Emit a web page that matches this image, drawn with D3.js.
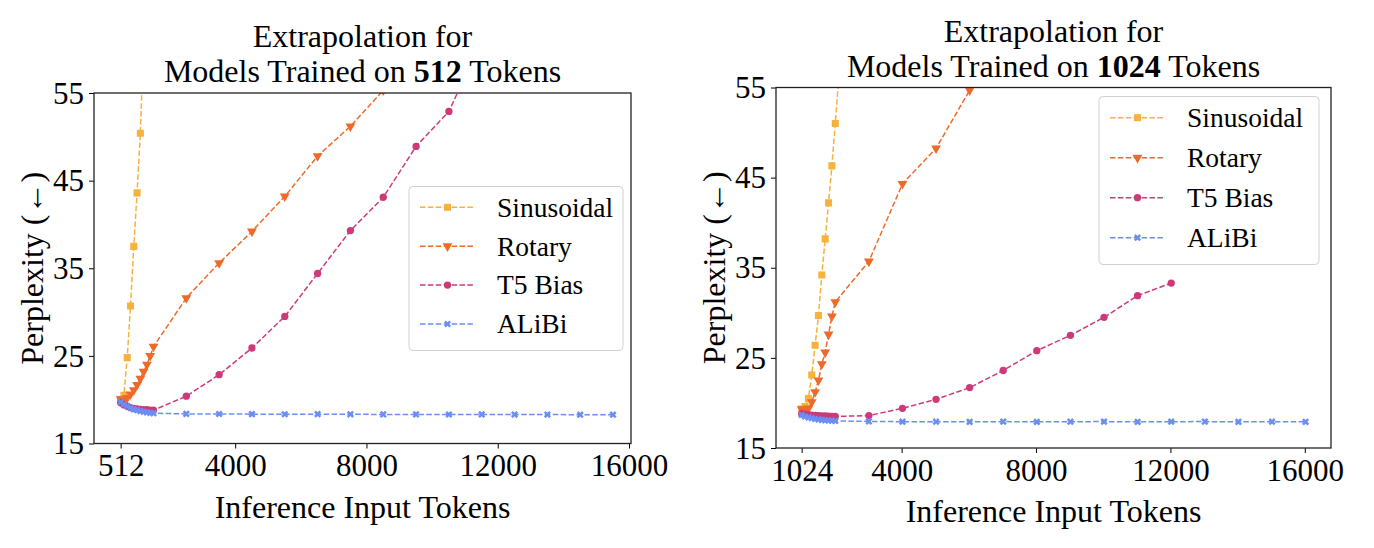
<!DOCTYPE html>
<html><head><meta charset="utf-8">
<script src="https://cdn.jsdelivr.net/npm/d3@7"></script>
<style>
body{margin:0;background:#fff}
svg{display:block}
text{font-family:"Liberation Serif","Times New Roman",serif;fill:#000}
</style>
</head><body>
<svg id="chart" width="1374" height="548"></svg>
<script>
// ---------------- DATA ----------------
const seriesNames = ["Sinusoidal", "Rotary", "T5 Bias", "ALiBi"];
const yTicks = [15, 25, 35, 45, 55];
const xTicks512 = [512, 4000, 8000, 12000, 16000];
const xTicks1024 = [1024, 4000, 8000, 12000, 16000];

// Models trained on 512 tokens
const tokens512 = [512, 612, 712, 812, 912, 1012, 1112, 1212, 1312, 1412, 1512,
  2512, 3512, 4512, 5512, 6512, 7512, 8512, 9512, 10512, 11512, 12512, 13512, 14512, 15512];
const sinusoidal512 = [20.05, 20.5, 24.8, 30.7, 37.5, 43.6, 50.4, 61.0, null, null, null,
  null, null, null, null, null, null, null, null, null, null, null, null, null, null];
const rotary512 = [20.07, 20.0, 20.2, 20.6, 21.1, 21.7, 22.4, 23.2, 24.0, 25.0, 26.05,
  31.6, 35.6, 39.2, 43.2, 47.8, 51.2, 55.3, 60.0, null, null, null, null, null, null];
const t5512 = [19.65, 19.4, 19.25, 19.1, 19.0, 18.95, 18.9, 18.85, 18.85, 18.8, 18.8,
  20.4, 22.85, 25.9, 29.5, 34.4, 39.3, 43.1, 48.9, 52.9, 61.0, null, null, null, null];
const alibi512 = [19.73, 19.45, 19.25, 19.05, 18.9, 18.8, 18.7, 18.62, 18.55, 18.5, 18.45,
  18.38, 18.37, 18.35, 18.34, 18.35, 18.33, 18.32, 18.32, 18.31, 18.32, 18.3, 18.3, 18.29, 18.29];

// Models trained on 1024 tokens
const tokens1024 = [1024, 1124, 1224, 1324, 1424, 1524, 1624, 1724, 1824, 1924, 2024,
  3024, 4024, 5024, 6024, 7024, 8024, 9024, 10024, 11024, 12024, 13024, 14024, 15024, 16024];
const sinusoidal1024 = [19.34, 19.6, 20.5, 23.1, 26.4, 29.7, 34.2, 38.2, 42.2, 46.3, 51.0,
  100.0, null, null, null, null, null, null, null, null, null, null, null, null, null];
const rotary1024 = [19.33, 19.3, 19.4, 20.1, 21.2, 22.5, 24.3, 25.6, 27.6, 29.6, 31.2,
  35.7, 44.3, 48.25, 54.7, 61.0, null, null, null, null, null, null, null, null, null];
const t51024 = [18.8, 18.75, 18.7, 18.65, 18.62, 18.6, 18.57, 18.55, 18.53, 18.5, 18.5,
  18.6, 19.4, 20.4, 21.7, 23.6, 25.8, 27.5, 29.5, 31.9, 33.3, null, null, null, null];
const alibi1024 = [18.66, 18.5, 18.4, 18.3, 18.22, 18.17, 18.12, 18.08, 18.05, 18.02, 18.0,
  17.95, 17.92, 17.92, 17.9, 17.93, 17.9, 17.92, 17.93, 17.9, 17.92, 17.93, 17.9, 17.92, 17.9];

// ---------------- STYLE ----------------
const colors = {"Sinusoidal": "#f5b23c", "Rotary": "#ee6a2a", "T5 Bias": "#cc3a7a", "ALiBi": "#6b8ef5"};
const FONT_TICK = 31, FONT_LABEL = 32, FONT_TITLE = 32, FONT_LEGEND = 27.5;

const svg = d3.select("#chart");

function markerPath(name) {
  if (name === "Sinusoidal") return {d: d3.symbol(d3.symbolSquare, 50)(), rot: 0};
  if (name === "Rotary") return {d: d3.symbol(d3.symbolTriangle, 42)(), rot: 180};
  if (name === "T5 Bias") return {d: d3.symbol(d3.symbolCircle, 42)(), rot: 0};
  return {d: d3.symbol(d3.symbolCross, 32)(), rot: 45};
}

function panel(cfg) {
  const g = svg.append("g");
  const x = d3.scaleLinear().domain(cfg.xDomain).range([cfg.x0, cfg.x1]);
  const y = d3.scaleLinear().domain([15, 55]).range([cfg.y1, cfg.y0]);

  const clipId = "clip" + cfg.id;
  svg.append("defs").append("clipPath").attr("id", clipId)
    .append("rect").attr("x", cfg.x0).attr("y", cfg.y0)
    .attr("width", cfg.x1 - cfg.x0).attr("height", cfg.y1 - cfg.y0);

  const plot = g.append("g").attr("clip-path", `url(#${clipId})`);
  const line = d3.line().defined(d => d.v != null).x(d => x(d.t)).y(d => y(d.v));

  cfg.series.forEach((vals, i) => {
    const name = seriesNames[i];
    const pts = cfg.tokens.map((t, j) => ({t: t, v: vals[j]}));
    plot.append("path").datum(pts)
      .attr("d", line)
      .attr("fill", "none")
      .attr("stroke", colors[name])
      .attr("stroke-width", 1.5)
      .attr("stroke-dasharray", "5.5,2.4");
    const m = markerPath(name);
    plot.selectAll(null).data(pts.filter(d => d.v != null)).enter()
      .append("path")
      .attr("d", m.d)
      .attr("fill", colors[name])
      .attr("transform", d => `translate(${x(d.t)},${y(d.v)}) rotate(${m.rot})`);
  });

  // axes
  const xAxis = d3.axisBottom(x).tickValues(cfg.xTicks).tickSize(5).tickPadding(6).tickFormat(d3.format("d"));
  const gx = g.append("g").attr("transform", `translate(0,${cfg.y1})`).call(xAxis);
  gx.select(".domain").remove();
  gx.selectAll("line").attr("stroke", "#000").attr("stroke-width", 1);
  gx.selectAll("text").attr("font-size", FONT_TICK).attr("dy", null).attr("y", 32.5)
    .style("font-family", '"Liberation Serif",serif');

  const yAxis = d3.axisLeft(y).tickValues(yTicks).tickSize(5).tickPadding(5);
  const gy = g.append("g").attr("transform", `translate(${cfg.x0},0)`).call(yAxis);
  gy.select(".domain").remove();
  gy.selectAll("line").attr("stroke", "#000").attr("stroke-width", 1);
  gy.selectAll("text").attr("font-size", FONT_TICK).attr("dy", "0.33em")
    .style("font-family", '"Liberation Serif",serif');

  // spines
  g.append("rect").attr("x", cfg.x0).attr("y", cfg.y0)
    .attr("width", cfg.x1 - cfg.x0).attr("height", cfg.y1 - cfg.y0)
    .attr("fill", "none").attr("stroke", "#222").attr("stroke-width", 1.3);

  // labels
  const cx = (cfg.x0 + cfg.x1) / 2;
  g.append("text").attr("x", cx).attr("y", cfg.y1 + 74).attr("text-anchor", "middle")
    .attr("font-size", FONT_LABEL).text("Inference Input Tokens");
  g.append("text").attr("transform", `translate(${cfg.x0 - 51},${(cfg.y0 + cfg.y1) / 2}) rotate(-90)`)
    .attr("text-anchor", "middle").attr("font-size", FONT_LABEL).text("Perplexity (\u2190)");

  // title (two lines)
  g.append("text").attr("x", cx).attr("y", cfg.y0 - 46).attr("text-anchor", "middle")
    .attr("font-size", FONT_TITLE).text("Extrapolation for");
  const l2 = g.append("text").attr("x", cx).attr("y", cfg.y0 - 11).attr("text-anchor", "middle")
    .attr("font-size", FONT_TITLE);
  l2.append("tspan").text("Models Trained on ");
  l2.append("tspan").attr("font-weight", "bold").text(cfg.trainLen);
  l2.append("tspan").text(" Tokens");

  // legend
  const L = cfg.legend;
  const lg = g.append("g");
  lg.append("rect").attr("x", L.x).attr("y", L.y).attr("width", L.w).attr("height", L.h)
    .attr("rx", 4).attr("fill", "#fff").attr("fill-opacity", 0.8)
    .attr("stroke", "#d0d0d0").attr("stroke-width", 1);
  seriesNames.forEach((name, i) => {
    const ry = L.y + L.first + i * L.step;
    lg.append("line").attr("x1", L.x + 11).attr("x2", L.x + 66).attr("y1", ry).attr("y2", ry)
      .attr("stroke", colors[name]).attr("stroke-width", 1.5).attr("stroke-dasharray", "5.5,2.4");
    const m = markerPath(name);
    lg.append("path").attr("d", m.d).attr("fill", colors[name])
      .attr("transform", `translate(${L.x + 38.5},${ry}) rotate(${m.rot})`);
    lg.append("text").attr("x", L.x + 88).attr("y", ry).attr("dy", "0.34em")
      .attr("font-size", FONT_LEGEND).text(name);
  });
}

panel({
  id: "L", x0: 94, x1: 631, y0: 93, y1: 443.5, xDomain: [-300, 16060],
  xTicks: xTicks512, tokens: tokens512, trainLen: "512",
  series: [sinusoidal512, rotary512, t5512, alibi512],
  legend: {x: 409, y: 186.5, w: 214, h: 164, first: 20.8, step: 38.9}
});
panel({
  id: "R", x0: 776, x1: 1331, y0: 87.5, y1: 448, xDomain: [260, 16780],
  xTicks: xTicks1024, tokens: tokens1024, trainLen: "1024",
  series: [sinusoidal1024, rotary1024, t51024, alibi1024],
  legend: {x: 1099, y: 96.5, w: 220, h: 168, first: 21.2, step: 40}
});
</script>
</body></html>
